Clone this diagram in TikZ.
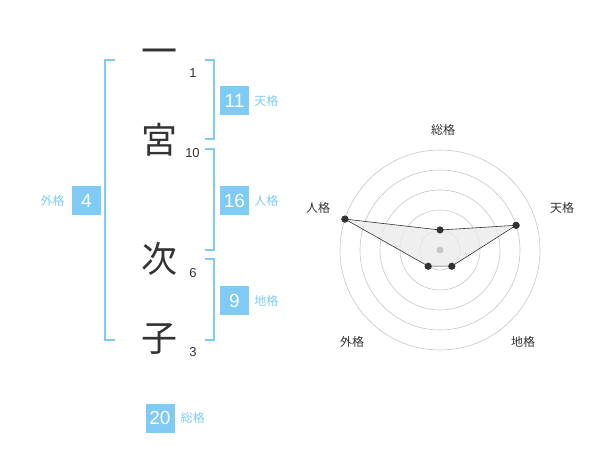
\documentclass[tikz,border=0pt]{standalone}
\usepackage{fontspec}
\setmainfont{Liberation Sans}
\newfontfamily\cjk{Noto Sans CJK JP}
\usetikzlibrary{positioning}
\definecolor{skyblue}{HTML}{80CBF5}
\definecolor{ink}{HTML}{333333}

\begin{document}
\begin{tikzpicture} [
        x=1pt, y=-1pt,
        kanji/.style={text=ink, inner sep=0pt, font=\cjk\fontsize{36}{36}\selectfont},
        strokes/.style={text=ink, inner sep=0pt, font=\fontsize{13}{13}\selectfont},
        kaku/.style={fill=skyblue, text=white, minimum size=29pt, inner sep=0pt, font=\fontsize{19}{19}\selectfont},
        kakuname/.style={text=skyblue, inner sep=0pt, font=\cjk\fontsize{12}{12}\selectfont},
        bracket/.style={draw=skyblue, line width=1.6pt},
        ring/.style={draw=black!22, line width=0.6pt},
        point/.style={circle, fill=ink, inner sep=0pt, minimum size=7pt},
        axisname/.style={text=ink, inner sep=0pt, font=\cjk\fontsize{12}{12}\selectfont} ]
    \useasboundingbox (0,0) rectangle (600,470);

    % name and strokes
    \node[kanji] (c1) at (159,57)  {一};
    \node[kanji] (c2) at (159,140) {宮};
    \node[kanji] (c3) at (159,259) {次};
    \node[kanji] (c4) at (159,339) {子};
    \node[strokes] (n1) at (193,73)  {1};
    \node[strokes] (n2) at (192.5,153) {10};
    \node[strokes] (n3) at (193,273) {6};
    \node[strokes] (n4) at (193,352) {3};

    % brackets
    \draw[bracket] (115,60) -- (105,60) -- (105,340) -- (115,340);
    \draw[bracket] (205,60) -- (214,60) -- (214,139) -- (205,139);
    \draw[bracket] (205,149) -- (214,149) -- (214,250) -- (205,250);
    \draw[bracket] (205,259) -- (214,259) -- (214,340) -- (205,340);

    % five grids
    \node[kaku] (ten) at (234.5,100.5) {11};
    \node[kakuname, right=5pt of ten] (tenname) {天格};
    \node[kaku] (jin) at (234.5,200.5) {16};
    \node[kakuname, right=5pt of jin] (jinname) {人格};
    \node[kaku] (chi) at (234.5,300.5) {9};
    \node[kakuname, right=5pt of chi] (chiname) {地格};
    \node[kaku] (gai) at (86.5,200.5) {4};
    \node[kakuname, left=7pt of gai] (gainame) {外格};
    \node[kaku] (sou) at (160,418) {20};
    \node[kakuname, right=6pt of sou] (souname) {総格};

    % radar
    \coordinate (center) at (440,250);
    \foreach \r in {20,40,60,80,100}
        \draw[ring] (center) circle (\r pt);
    \node[axisname] (asou) at (443,130) {総格};
    \node[axisname] (aten) at (562,208) {天格};
    \node[axisname] (ajin) at (318,208) {人格};
    \node[axisname] (agai) at (352,342) {外格};
    \node[axisname] (achi) at (523,342) {地格};
    \node[point] (psou) at (440,230) {};
    \node[point] (pten) at (516.1,225.3) {};
    \node[point] (pchi) at (451.8,266.2) {};
    \node[point] (pgai) at (428.2,266.2) {};
    \node[point] (pjin) at (344.9,219.1) {};
    \fill[black!8, opacity=0.8] (psou.center) -- (pten.center) -- (pchi.center) -- (pgai.center) -- (pjin.center) -- cycle;
    \node[circle, fill=black!22, inner sep=0pt, minimum size=7pt] (hub) at (center) {};
    \draw[ink, line width=0.6pt] (psou.center) -- (pten.center) -- (pchi.center) -- (pgai.center) -- (pjin.center) -- cycle;
    \foreach \p in {psou,pten,pchi,pgai,pjin}
        \node[point] at (\p) {};
\end{tikzpicture}
\end{document}
